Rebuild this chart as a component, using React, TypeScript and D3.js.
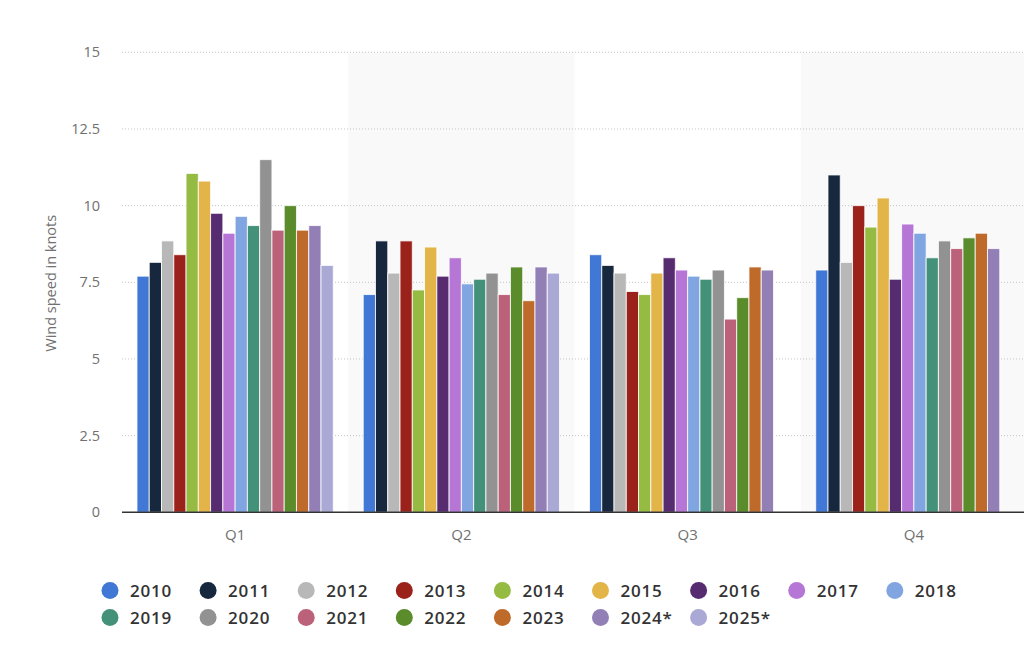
import { useEffect, useRef } from 'react';
import * as d3 from 'd3';

const quarters = ['Q1', 'Q2', 'Q3', 'Q4'];
const years = ['2010', '2011', '2012', '2013', '2014', '2015', '2016', '2017', '2018', '2019', '2020', '2021', '2022', '2023', '2024*', '2025*'];
const colors = ['#4178d5', '#17283e', '#b8b8b8', '#9b211b', '#95bb43', '#e3b447', '#572b70', '#b676d6', '#80a5e0', '#44917a', '#929292', '#bb6179', '#5a8c2c', '#bd6a2a', '#927fb5', '#aaa9d5'];

// one array per quarter, in year order (null = no data yet)
const q1 = [7.7, 8.15, 8.85, 8.4, 11.05, 10.8, 9.75, 9.1, 9.65, 9.35, 11.5, 9.2, 10, 9.2, 9.35, 8.05];
const q2 = [7.1, 8.85, 7.8, 8.85, 7.25, 8.65, 7.7, 8.3, 7.45, 7.6, 7.8, 7.1, 8, 6.9, 8, 7.8];
const q3 = [8.4, 8.05, 7.8, 7.2, 7.1, 7.8, 8.3, 7.9, 7.7, 7.6, 7.9, 6.3, 7, 8, 7.9, null];
const q4 = [7.9, 11, 8.15, 10, 9.3, 10.25, 7.6, 9.4, 9.1, 8.3, 8.85, 8.6, 8.95, 9.1, 8.6, null];
const values = [q1, q2, q3, q4];

const yTicks = [0, 2.5, 5, 7.5, 10, 12.5, 15];

const W = 1024;
const H = 646;
const margin = { top: 52, right: -3, bottom: 134, left: 122 };

const App = () => {
  const svgRef = useRef<SVGSVGElement>(null);

  useEffect(() => {
    if (!svgRef.current) return;
    const svg = d3.select(svgRef.current);
    svg.selectAll('*').remove();

    const x0 = d3
      .scaleBand<string>()
      .domain(quarters)
      .range([margin.left, W - margin.right]);

    const x1 = d3
      .scaleBand<string>()
      .domain(years)
      .range([0, x0.bandwidth()])
      .paddingOuter(1.22);

    const y = d3
      .scaleLinear()
      .domain([0, 15])
      .range([H - margin.bottom + 0.3, margin.top + 0.3]);

    // alternating band background
    svg
      .append('g')
      .selectAll('rect')
      .data(quarters.filter((_, i) => i % 2 === 1))
      .join('rect')
      .attr('x', (d) => x0(d)!)
      .attr('y', y(15))
      .attr('width', x0.bandwidth())
      .attr('height', y(0) - y(15))
      .attr('fill', '#f9f9f9');

    // grid
    svg
      .append('g')
      .selectAll('line')
      .data(yTicks.filter((t) => t > 0))
      .join('line')
      .attr('x1', margin.left)
      .attr('x2', W)
      .attr('y1', (d) => y(d))
      .attr('y2', (d) => y(d))
      .attr('stroke', '#c4c4c4')
      .attr('stroke-width', 1)
      .attr('stroke-dasharray', '1,2');

    // y tick labels
    svg
      .append('g')
      .selectAll('text')
      .data(yTicks)
      .join('text')
      .attr('x', 100)
      .attr('y', (d) => y(d) + 5)
      .attr('text-anchor', 'end')
      .attr('fill', '#707070')
      .attr('font-size', 14.5)
      .text((d) => String(d));

    svg
      .append('text')
      .attr('transform', `translate(56,${(y(0) + y(15)) / 2 + 1}) rotate(-90)`)
      .attr('text-anchor', 'middle')
      .attr('fill', '#707070')
      .attr('font-size', 14.5)
      .text('Wind speed in knots');

    // bars
    const groups = svg
      .append('g')
      .selectAll('g')
      .data(quarters)
      .join('g')
      .attr('transform', (d) => `translate(${x0(d)},0)`);

    groups
      .selectAll('rect')
      .data((_, qi) =>
        years
          .map((yr, i) => ({ yr, i, v: values[qi][i] }))
          .filter((d) => d.v !== null)
      )
      .join('rect')
      .attr('x', (d) => x1(d.yr)!)
      .attr('y', (d) => y(d.v as number))
      .attr('width', x1.bandwidth())
      .attr('height', (d) => y(0) - y(d.v as number))
      .attr('fill', (d) => colors[d.i])
      .attr('stroke', '#ffffff')
      .attr('stroke-opacity', 0.8)
      .attr('stroke-width', 1);

    // x axis
    svg
      .append('line')
      .attr('x1', margin.left)
      .attr('x2', W)
      .attr('y1', y(0))
      .attr('y2', y(0))
      .attr('stroke', '#333333')
      .attr('stroke-width', 1.5);

    svg
      .append('g')
      .selectAll('text')
      .data(quarters)
      .join('text')
      .attr('x', (d) => x0(d)! + x0.bandwidth() / 2)
      .attr('y', 540)
      .attr('text-anchor', 'middle')
      .attr('fill', '#707070')
      .attr('font-size', 15)
      .text((d) => d);

    // legend
    const legend = svg
      .append('g')
      .selectAll('g')
      .data(years)
      .join('g')
      .attr('transform', (_, i) => `translate(${110 + (i % 9) * 98.1},${590.5 + Math.floor(i / 9) * 27})`);

    legend
      .append('circle')
      .attr('r', 8.5)
      .attr('fill', (_, i) => colors[i]);

    legend
      .append('text')
      .attr('x', 20)
      .attr('y', 6.5)
      .attr('fill', '#333333')
      .attr('font-size', 17)
      .attr('font-weight', 600)
      .attr('letter-spacing', 0.8)
      .text((d) => d);
  }, []);

  return (
    <div style={{ position: 'absolute', left: 0, top: 0 }}>
      <svg
        ref={svgRef}
        width={W}
        height={H}
        style={{ display: 'block', fontFamily: "'Open Sans', sans-serif", background: '#ffffff' }}
      />
    </div>
  );
};

export default App;
